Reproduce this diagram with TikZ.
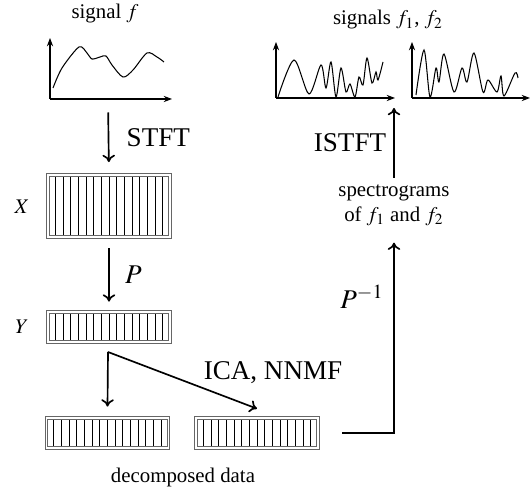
\documentclass[tikz,border=0pt]{standalone}
\usepackage{mathptmx}
\usepackage{fontspec}
\setmainfont{Liberation Serif}
\usepackage{tikz}
\usetikzlibrary{arrows.meta, positioning, calc}
\tikzset{
  specbox/.style={
    draw=black!60, double, double distance=0.8pt, line width=0.35pt,
    inner sep=0pt, minimum width=58.5pt
  },
  flow/.style={
    -{To[length=3.5pt, width=6pt]}, line width=0.8pt
  },
  axisline/.style={
    -{Stealth[length=4pt, width=3pt]}, line width=0.5pt
  },
  wave/.style={line width=0.5pt},
  steplabel/.style={font=\fontsize{13}{15}\selectfont},
}
% vertical columns of a spectrogram box
\newcommand{\drawcols}[1]{%
  \foreach \i in {1,...,15}{%
    \draw[line width=0.4pt]
      ($(#1.north west)!\i/16!(#1.north east)+(0,-1.2pt)$) --
      ($(#1.south west)!\i/16!(#1.south east)+(0,1.2pt)$);
  }%
}

\begin{document}
\begin{tikzpicture}[x=0.48pt, y=-0.48pt]
  \useasboundingbox (0,0) rectangle (530,488);

  % ── Input signal ───────────────────────────────────────────────
  \node (sigtitle) at (105,14) {signal $f$};
  \coordinate (sigo) at (50,99);
  \draw[axisline] (sigo) -- (50,38);
  \draw[axisline] (sigo) -- (172,99);
  \draw[wave] plot[smooth] coordinates {
    (53,88) (62,68) (79,47) (87,53) (92,59) (100,57) (106,56)
    (112,65) (123,77) (133,70) (147,53) (157,57) (164,62)};
  \coordinate (sigout) at (108,100);

  % ── Spectrogram X ──────────────────────────────────────────────
  \node[specbox, minimum height=29.8pt] (X) at (109,206) {};
  \drawcols{X}
  \node (Xlabel) at (22,207) {$X$};

  \draw[flow, shorten <=6pt, shorten >=6pt] (sigout) -- (X.north)
    node[midway, right=5pt, steplabel] {STFT};

  % ── Projected data Y ───────────────────────────────────────────
  \node[specbox, minimum height=14.4pt] (Y) at (109,327) {};
  \drawcols{Y}
  \node (Ylabel) at (22,327) {$Y$};

  \draw[flow, shorten <=5.2pt, shorten >=4.8pt] (X.south) -- (Y.north)
    node[midway, right=4pt, steplabel] {$P$};

  % ── Decomposition ──────────────────────────────────────────────
  \node[specbox, minimum height=14.4pt] (dec1) at (107.5,433) {};
  \drawcols{dec1}
  \node[specbox, minimum height=14.4pt] (dec2) at (257,433) {};
  \drawcols{dec2}
  \node (declabel) at (183,477) {decomposed data};

  \coordinate (split) at (108,352);
  \draw[flow] (split) -- ([yshift=5.3pt]dec1.north);
  \draw[flow] (split) -- ([yshift=4.3pt]dec2.north);
  \node[steplabel] (ica) at (273,373) {ICA, NNMF};

  % ── Back to the signals ────────────────────────────────────────
  \node[align=center, inner sep=2pt] (spec) at (394,205)
    {spectrograms\\of $f_1$ and $f_2$};
  \draw[flow, shorten <=11.5pt, shorten >=6pt]
    (dec2.east) -| (spec.south);
  \node[steplabel] (pinv) at (362,297) {$P^{-1}$};

  \coordinate (sigsin) at (394,108);
  \draw[flow, shorten <=1pt] (spec.north) -- (sigsin);
  \node[steplabel] (istft) at (350,143) {ISTFT};

  % ── Output signals ─────────────────────────────────────────────
  \node (outtitle) at (388,20) {signals $f_1$, $f_2$};
  \draw[axisline] (276,98) -- (276,42);
  \draw[axisline] (276,98) -- (395,98);
  \draw[wave] plot[smooth] coordinates {
    (278,97) (294,60) (309,94) (321,65) (326,88) (331,62) (336,97)
    (341,68) (346,92) (350,84) (355,97) (359,77) (363,85) (367,58)
    (372,83) (376,72) (378,80) (383,62)};

  \draw[axisline] (412,98) -- (412,42);
  \draw[axisline] (412,98) -- (530,98);
  \draw[wave] plot[smooth] coordinates {
    (416,95) (424,50) (430,97) (436,68) (439,82) (444,54) (454,92)
    (462,68) (467,82) (474,53) (483,92) (488,80) (497,92) (501,76)
    (504,96) (515,73) (518,78)};
\end{tikzpicture}
\end{document}
